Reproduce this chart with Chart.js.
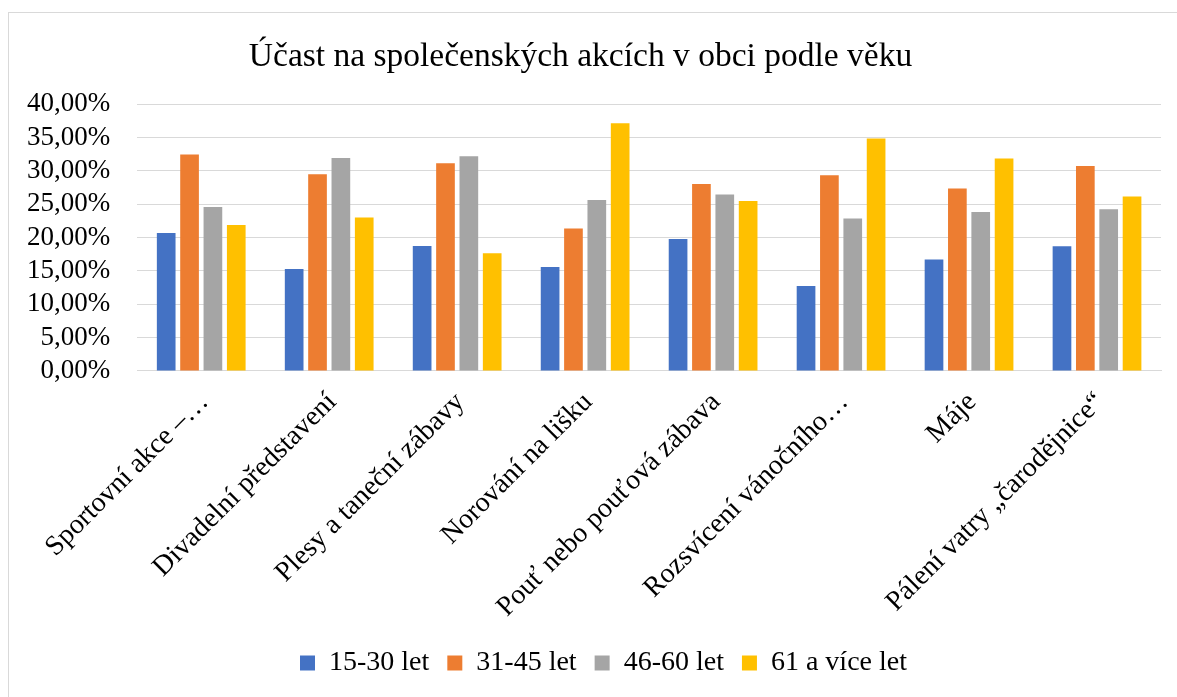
<!DOCTYPE html>
<html>
<head>
<meta charset="utf-8">
<script src="https://cdn.jsdelivr.net/npm/chart.js@4"></script>
<style>
  body { margin: 0; background: #fff; }
  #frame { position: absolute; left: 8px; top: 12px; width: 1300px; height: 800px; border-left: 1px solid #d9d9d9; border-top: 1px solid #d9d9d9; }
  #c { position: absolute; left: 0; top: 0; }
</style>
</head>
<body>
<div id="frame"></div>
<canvas id="c" width="1177" height="697"></canvas>
<script>
const kategorie = [
  "Sportovní akce –…",
  "Divadelní představení",
  "Plesy a taneční zábavy",
  "Norování na lišku",
  "Pouť nebo pouťová zábava",
  "Rozsvícení vánočního…",
  "Máje",
  "Pálení vatry „čarodějnice“"
];

const vek15_30 = [20.7, 15.3, 18.75, 15.6, 19.8, 12.75, 16.7, 18.7];
const vek31_45 = [32.45, 29.5, 31.15, 21.35, 28.05, 29.35, 27.35, 30.75];
const vek46_60 = [24.6, 31.95, 32.2, 25.65, 26.45, 22.85, 23.85, 24.25];
const vek61 = [21.9, 23.0, 17.65, 37.15, 25.5, 34.85, 31.85, 26.15];

const serif = "'Liberation Serif', 'Times New Roman', serif";

function dataset(label, data, color) {
  return {
    label: label,
    data: data,
    backgroundColor: color,
    borderColor: color,
    borderWidth: 0
  };
}

// legenda je v originale posunuta trochu doprava
const posunLegendy = {
  id: 'posunLegendy',
  afterLayout(chart) {
    chart.legend.left += 23;
    chart.legend.right += 23;
  }
};

new Chart(document.getElementById('c').getContext('2d'), {
  type: 'bar',
  data: {
    labels: kategorie,
    datasets: [
      dataset("15-30 let", vek15_30, "#4472C4"),
      dataset("31-45 let", vek31_45, "#ED7D31"),
      dataset("46-60 let", vek46_60, "#A5A5A5"),
      dataset("61 a více let", vek61, "#FFC000")
    ]
  },
  options: {
    responsive: false,
    animation: false,
    layout: { padding: { left: 0, right: 16, top: 22, bottom: 10 } },
    datasets: { bar: { categoryPercentage: 0.73, barPercentage: 0.8 } },
    scales: {
      x: {
        grid: { display: false },
        border: { color: '#d9d9d9' },
        ticks: {
          color: '#000',
          font: { family: serif, size: 28 },
          maxRotation: 45,
          minRotation: 45,
          labelOffset: 3,
          padding: 7,
          autoSkip: false
        }
      },
      y: {
        min: 0,
        max: 40,
        grid: { color: '#d9d9d9', lineWidth: 1, drawTicks: false },
        border: { display: false },
        ticks: {
          stepSize: 5,
          autoSkip: false,
          padding: 27,
          color: '#000',
          font: { family: serif, size: 27 },
          callback: v => v.toFixed(2).replace('.', ',') + '%'
        }
      }
    },
    plugins: {
      title: {
        display: true,
        text: "Účast na společenských akcích v obci podle věku",
        color: '#000',
        font: { family: serif, size: 33.5, weight: 'normal' },
        padding: { top: 15, bottom: 27 }
      },
      legend: {
        position: 'bottom',
        labels: {
          color: '#000',
          font: { family: serif, size: 28 },
          boxWidth: 15,
          boxHeight: 15,
          padding: 18
        }
      },
      tooltip: { enabled: false }
    }
  },
  plugins: [posunLegendy]
});
</script>
</body>
</html>
